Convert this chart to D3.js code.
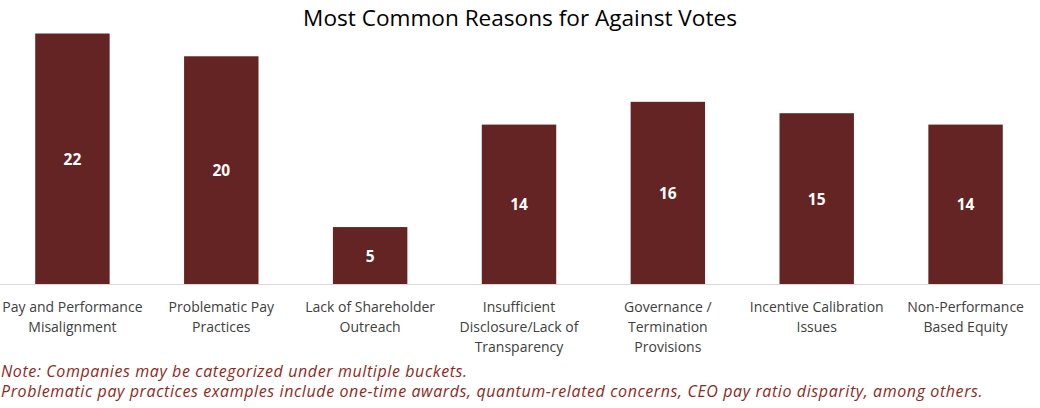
<!DOCTYPE html>
<html><head><meta charset="utf-8">
<script src="https://cdn.jsdelivr.net/npm/d3@7"></script>
<style>body{margin:0;background:#fff;}svg{display:block;font-family:"Open Sans",sans-serif;}</style>
</head><body><svg id="c" width="1040" height="408"></svg>
<script>
const categories = [
  ["Pay and Performance","Misalignment"],
  ["Problematic Pay","Practices"],
  ["Lack of Shareholder","Outreach"],
  ["Insufficient","Disclosure/Lack of","Transparency"],
  ["Governance /","Termination","Provisions"],
  ["Incentive Calibration","Issues"],
  ["Non-Performance","Based Equity"]
];
const values = [22, 20, 5, 14, 16, 15, 14];
const title = "Most Common Reasons for Against Votes";
const notes = [
  "Note: Companies may be categorized under multiple buckets.",
  "Problematic pay practices examples include one-time awards, quantum-related concerns, CEO pay ratio disparity, among others."
];

const svg = d3.select("#c");
const x = d3.scaleBand().domain(d3.range(values.length)).range([-2, 1040]).paddingInner(0.5).paddingOuter(0.25);
const y = d3.scaleLinear().domain([0, 22]).range([284, 33.5]);

svg.append("text").attr("x", 520).attr("y", 26).attr("text-anchor","middle")
  .attr("font-size", 22.6).attr("fill","#000").text(title);

svg.append("line").attr("x1",0).attr("x2",1040).attr("y1",284.5).attr("y2",284.5)
  .attr("stroke","#d9d9d9").attr("stroke-width",1);

svg.selectAll("rect.bar").data(values).join("rect").attr("class","bar")
  .attr("x",(d,i)=>x(i)).attr("width",x.bandwidth())
  .attr("y",d=>y(d)).attr("height",d=>y(0)-y(d)).attr("fill","#632423");

svg.selectAll("text.val").data(values).join("text").attr("class","val")
  .attr("x",(d,i)=>x(i)+x.bandwidth()/2).attr("y",d=>(y(d)+y(0))/2+6)
  .attr("text-anchor","middle").attr("font-size",15.5).attr("font-weight","bold")
  .attr("fill","#fff").text(d=>d);

const lab = svg.selectAll("text.cat").data(categories).join("text").attr("class","cat")
  .attr("x",(d,i)=>x(i)+x.bandwidth()/2).attr("y",312)
  .attr("text-anchor","middle").attr("font-size",14).attr("fill","#404040");
lab.selectAll("tspan").data(d=>d).join("tspan")
  .attr("x",function(){return this.parentNode.getAttribute("x");})
  .attr("dy",(d,i)=>i===0?0:20).text(d=>d);

svg.selectAll("text.note").data(notes).join("text").attr("class","note")
  .attr("x",1).attr("y",(d,i)=>377+i*20).attr("font-size",16).attr("letter-spacing",0.6)
  .attr("font-style","italic").attr("fill","#8e2a1c").text(d=>d);
</script></body></html>
